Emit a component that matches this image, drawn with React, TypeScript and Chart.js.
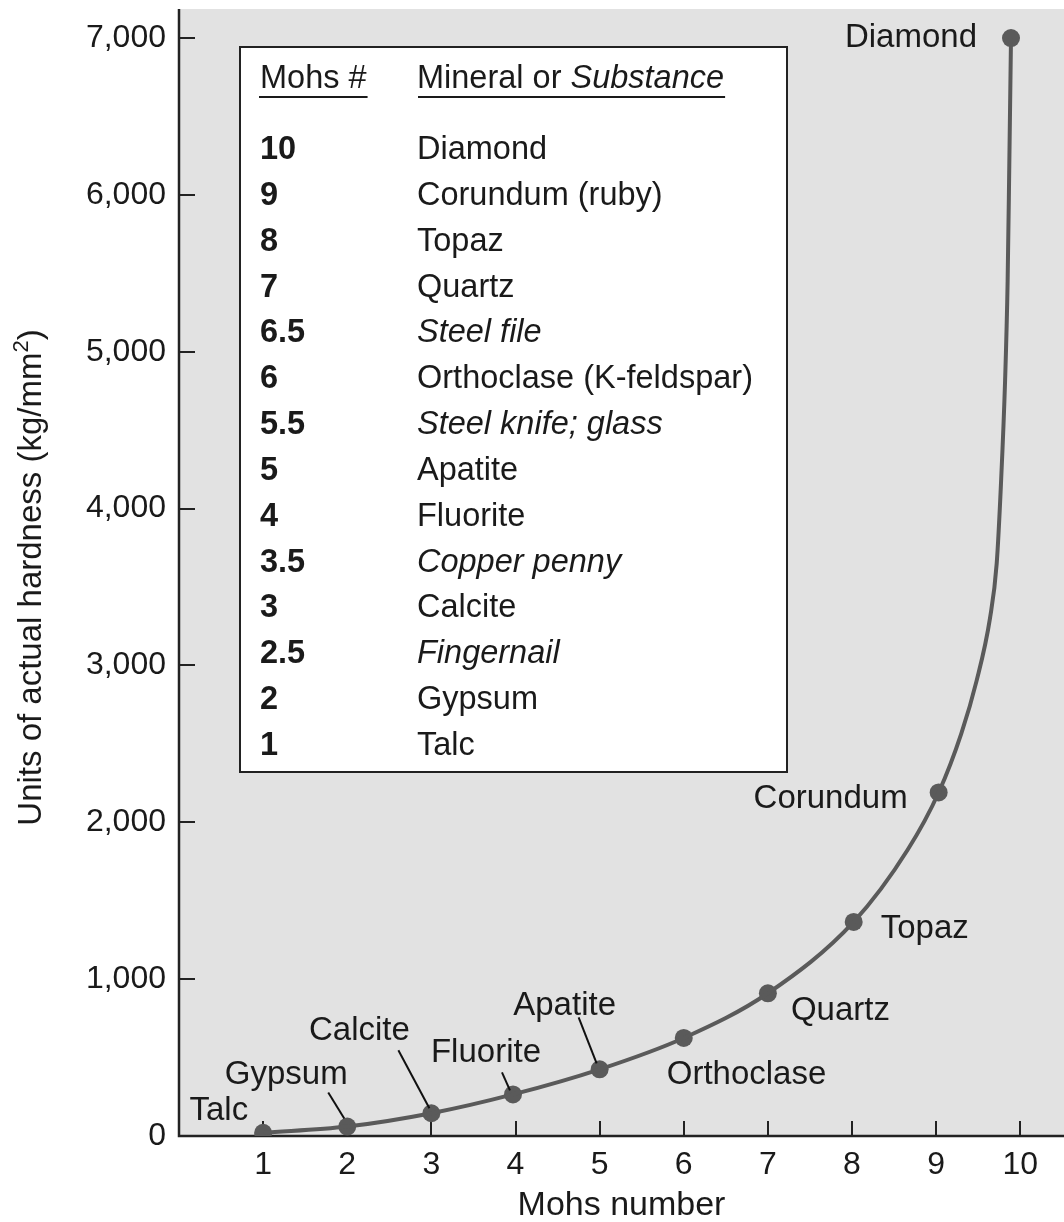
import React, { useEffect, useRef } from "react";
import { Chart, registerables } from "chart.js";

Chart.register(...registerables);

const FONT = '"Liberation Sans", Arial, sans-serif';

// ---- data ----
const mineralNames = ["Talc", "Gypsum", "Calcite", "Fluorite", "Apatite", "Orthoclase", "Quartz", "Topaz", "Corundum", "Diamond"];
const mineralMohs = [1, 2, 3, 3.97, 5, 6, 7, 8.02, 9.03, 9.89];
const mineralHardness = [20, 60, 145, 265, 425, 625, 910, 1365, 2190, 7000];

const curveMohs = [1, 2, 3, 3.97, 5, 6, 7, 8.02, 8.66, 9.03, 9.3, 9.48, 9.64, 9.72, 9.77, 9.82, 9.85, 9.87, 9.89];
const curveHardness = [20, 60, 145, 265, 425, 625, 910, 1365, 1823, 2190, 2567, 2900, 3300, 3650, 4150, 4820, 5450, 6200, 7000];

const xTickValues = [1, 2, 3, 4, 5, 6, 7, 8, 9, 10];
const xTickLabels = ["1", "2", "3", "4", "5", "6", "7", "8", "9", "10"];
const yTickValues = [0, 1000, 2000, 3000, 4000, 5000, 6000, 7000];
const yTickLabels = ["0", "1,000", "2,000", "3,000", "4,000", "5,000", "6,000", "7,000"];

const tableHeaderNumber = "Mohs #";
const tableHeaderName = "Mineral or ";
const tableHeaderNameItalic = "Substance";
const tableMohs = ["10", "9", "8", "7", "6.5", "6", "5.5", "5", "4", "3.5", "3", "2.5", "2", "1"];
const tableNames = ["Diamond", "Corundum (ruby)", "Topaz", "Quartz", "Steel file", "Orthoclase (K-feldspar)", "Steel knife; glass", "Apatite", "Fluorite", "Copper penny", "Calcite", "Fingernail", "Gypsum", "Talc"];
const tableIsSubstance = [false, false, false, false, true, false, true, false, false, true, false, true, false, false];

const xTitle = "Mohs number";
const yTitleMain = "Units of actual hardness (kg/mm";
const yTitleSup = "2";
const yTitleEnd = ")";

// ---- label placement (pixel offsets from the point) ----
type LabelStyle = { dx: number; dy: number; align: CanvasTextAlign; leader?: [number, number, number, number] };
const labelStyles: LabelStyle[] = [
  { dx: -15, dy: -22, align: "right" },
  { dx: -61, dy: -52, align: "center", leader: [-19, -34, -3, -8] },
  { dx: -72, dy: -82, align: "center", leader: [-33, -63, -2, -5] },
  { dx: -27, dy: -42, align: "center", leader: [-11, -22, -3, -4] },
  { dx: -35, dy: -63, align: "center", leader: [-21, -52, -3, -6] },
  { dx: -17, dy: 37, align: "left" },
  { dx: 23, dy: 18, align: "left" },
  { dx: 27, dy: 7, align: "left" },
  { dx: -31, dy: 6, align: "right" },
  { dx: -34, dy: 0, align: "right" },
];

const TEXT = "#1a1a1a";
const AXIS = "#222222";
const MARK = "#5a5a5a";

const decorPlugin = {
  id: "decor",
  beforeDraw(chart: any) {
    const { ctx, chartArea: a } = chart;
    ctx.save();
    ctx.fillStyle = "#e2e2e2";
    ctx.fillRect(a.left, a.top, a.right - a.left, a.bottom - a.top);
    ctx.restore();
  },
  beforeDatasetsDraw(chart: any) {
    const { ctx, chartArea: a, scales } = chart;
    ctx.save();
    ctx.strokeStyle = AXIS;
    ctx.lineWidth = 2;
    ctx.beginPath();
    for (const v of yTickValues) {
      if (v === 0) continue;
      const y = Math.round(scales.y.getPixelForValue(v));
      ctx.moveTo(a.left, y);
      ctx.lineTo(a.left + 16, y);
    }
    for (const v of xTickValues) {
      const x = Math.round(scales.x.getPixelForValue(v));
      ctx.moveTo(x, a.bottom);
      ctx.lineTo(x, a.bottom - 15);
    }
    ctx.stroke();
    // axes
    ctx.lineWidth = 2.5;
    ctx.beginPath();
    ctx.moveTo(a.left, a.top);
    ctx.lineTo(a.left, a.bottom);
    ctx.lineTo(a.right, a.bottom);
    ctx.stroke();
    ctx.restore();
  },
  afterDatasetsDraw(chart: any) {
    const { ctx, chartArea: a, scales } = chart;
    ctx.save();
    ctx.fillStyle = TEXT;
    ctx.strokeStyle = "#111";
    ctx.font = `33px ${FONT}`;
    ctx.textBaseline = "middle";
    // point labels
    mineralNames.forEach((name, i) => {
      const px = scales.x.getPixelForValue(mineralMohs[i]);
      const py = scales.y.getPixelForValue(mineralHardness[i]);
      const s = labelStyles[i];
      ctx.textAlign = s.align;
      ctx.fillText(name, px + s.dx, py + s.dy);
      if (s.leader) {
        ctx.lineWidth = 2;
        ctx.beginPath();
        ctx.moveTo(px + s.leader[0], py + s.leader[1]);
        ctx.lineTo(px + s.leader[2], py + s.leader[3]);
        ctx.stroke();
      }
    });

    // table box
    const bx = 240, by = 47, bw = 547, bh = 725;
    ctx.fillStyle = "#ffffff";
    ctx.fillRect(bx, by, bw, bh);
    ctx.strokeStyle = AXIS;
    ctx.lineWidth = 2;
    ctx.strokeRect(bx, by, bw, bh);

    ctx.fillStyle = TEXT;
    ctx.textAlign = "left";
    const col1 = 260, col2 = 417, headY = 79;
    const TS = 32.5;
    ctx.font = `${TS}px ${FONT}`;
    ctx.fillText(tableHeaderNumber, col1, headY);
    const w1 = ctx.measureText(tableHeaderNumber).width;
    ctx.fillText(tableHeaderName, col2, headY);
    const w2a = ctx.measureText(tableHeaderName).width;
    ctx.font = `italic ${TS}px ${FONT}`;
    ctx.fillText(tableHeaderNameItalic, col2 + w2a, headY);
    const w2b = ctx.measureText(tableHeaderNameItalic).width;
    ctx.strokeStyle = TEXT;
    ctx.lineWidth = 2;
    ctx.beginPath();
    ctx.moveTo(col1 - 1, 97);
    ctx.lineTo(col1 + w1 + 1, 97);
    ctx.moveTo(col2 + 1, 97);
    ctx.lineTo(col2 + w2a + w2b + 1, 97);
    ctx.stroke();

    tableMohs.forEach((num, i) => {
      const y = 150 + i * 45.85;
      ctx.font = `bold ${TS}px ${FONT}`;
      ctx.fillText(num, col1, y);
      ctx.font = `${tableIsSubstance[i] ? "italic " : ""}${TS}px ${FONT}`;
      ctx.fillText(tableNames[i], col2, y);
    });

    // axis titles
    ctx.font = `34px ${FONT}`;
    ctx.textAlign = "center";
    ctx.fillText(xTitle, (a.left + a.right) / 2, 1206);

    ctx.translate(32, (a.top + a.bottom) / 2 + 5);
    ctx.rotate(-Math.PI / 2);
    ctx.font = `33px ${FONT}`;
    const m1 = ctx.measureText(yTitleMain).width;
    ctx.font = `22px ${FONT}`;
    const m2 = ctx.measureText(yTitleSup).width;
    ctx.font = `33px ${FONT}`;
    const m3 = ctx.measureText(yTitleEnd).width;
    const total = m1 + m2 + m3;
    const x0 = -total / 2;
    ctx.textAlign = "left";
    ctx.fillText(yTitleMain, x0, 0);
    ctx.font = `22px ${FONT}`;
    ctx.fillText(yTitleSup, x0 + m1, -10);
    ctx.font = `33px ${FONT}`;
    ctx.fillText(yTitleEnd, x0 + m1 + m2, 0);
    ctx.restore();
  },
};

export default function App() {
  const ref = useRef<HTMLCanvasElement | null>(null);
  useEffect(() => {
    if (!ref.current) return;
    const chart = new Chart(ref.current, {
      type: "scatter",
      data: {
        datasets: [
          {
            type: "line",
            data: curveMohs.map((x, i) => ({ x, y: curveHardness[i] })),
            borderColor: MARK,
            borderWidth: 4,
            pointRadius: 0,
            fill: false,
            cubicInterpolationMode: "monotone",
          } as any,
          {
            data: mineralMohs.map((x, i) => ({ x, y: mineralHardness[i] })),
            backgroundColor: MARK,
            borderColor: MARK,
            pointRadius: 9,
            pointBorderWidth: 0,
          },
        ],
      },
      options: {
        animation: false,
        responsive: true,
        maintainAspectRatio: false,
        layout: { autoPadding: false, padding: { top: 9, left: 0, right: 0, bottom: 0 } },
        plugins: { legend: { display: false }, tooltip: { enabled: false }, title: { display: false } },
        scales: {
          x: {
            type: "linear",
            min: 0,
            max: 10.52,
            grid: { display: false, drawTicks: false },
            border: { display: false },
            afterBuildTicks: (s: any) => {
              s.ticks = xTickValues.map((v) => ({ value: v }));
            },
            afterFit: (s: any) => {
              s.height = 86;
              s.paddingLeft = 0;
              s.paddingRight = 0;
              s.paddingTop = 0;
              s.paddingBottom = 0;
            },
            ticks: {
              padding: 10,
              color: TEXT,
              font: { family: FONT, size: 32 },
              maxRotation: 0,
              autoSkip: false,
              callback: (_v: any, i: number) => xTickLabels[i],
            },
          },
          y: {
            type: "linear",
            min: 0,
            max: 7185,
            grid: { display: false, drawTicks: false },
            border: { display: false },
            afterBuildTicks: (s: any) => {
              s.ticks = yTickValues.map((v) => ({ value: v }));
            },
            afterFit: (s: any) => {
              s.width = 179;
              s.paddingLeft = 0;
              s.paddingRight = 0;
              s.paddingTop = 0;
              s.paddingBottom = 0;
            },
            ticks: {
              padding: 13,
              color: TEXT,
              font: { family: FONT, size: 32 },
              autoSkip: false,
              callback: (_v: any, i: number) => yTickLabels[i],
            },
          },
        },
      },
      plugins: [decorPlugin],
    });
    return () => chart.destroy();
  }, []);
  return (
    <div style={{ position: "absolute", left: 0, top: 0, width: 1064, height: 1222, background: "#ffffff" }}>
      <canvas ref={ref} />
    </div>
  );
}
